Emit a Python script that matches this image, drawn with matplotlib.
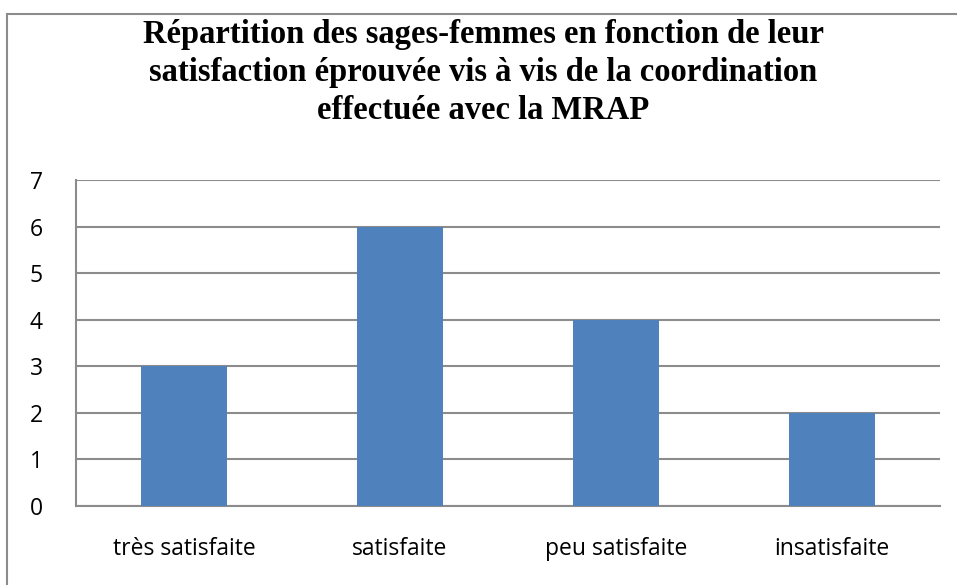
import matplotlib.pyplot as plt
from matplotlib.lines import Line2D

categories = ['très satisfaite', 'satisfaite', 'peu satisfaite', 'insatisfaite']
values = [3, 6, 4, 2]
title = ('Répartition des sages-femmes en fonction de leur\n'
         'satisfaction éprouvée vis à vis de la coordination\n'
         'effectuée avec la MRAP')

fig = plt.figure(figsize=(9.57, 5.85), dpi=100)
ax = fig.add_axes([76/957, 1 - 506/585, 864/957, 326/585])

x = range(len(categories))
ax.bar(x, values, width=0.4, color='#4F81BD', zorder=3)
ax.set_xlim(-0.5, len(categories) - 0.5)
ax.set_ylim(0, 7)
ax.set_yticks(range(0, 8))
ax.set_xticks(list(x))
ax.set_xticklabels(categories)
ax.yaxis.grid(True, color='#8c8c8c', linewidth=1.5, zorder=0)
for s in ['top', 'right']:
    ax.spines[s].set_visible(False)
for s in ['left', 'bottom']:
    ax.spines[s].set_color('#8c8c8c')
    ax.spines[s].set_linewidth(1.5)
ax.tick_params(length=0, labelsize=16.5, colors='black')
ax.tick_params(axis='x', pad=22)
ax.tick_params(axis='y', pad=24)
for lab in ax.get_xticklabels() + ax.get_yticklabels():
    lab.set_family(['Open Sans', 'DejaVu Sans'])

fig.text(0.505, 1 - 19/585, title, ha='center', va='top',
         family='Liberation Serif', weight='bold', fontsize=23.5,
         linespacing=1.3)

# outer chart frame (cropped on right and bottom)
fig.add_artist(Line2D([7/957, 1], [1 - 14/585, 1 - 14/585], transform=fig.transFigure,
                      color='#8c8c8c', linewidth=1.5))
fig.add_artist(Line2D([7/957, 7/957], [0, 1 - 14/585], transform=fig.transFigure,
                      color='#8c8c8c', linewidth=1.5))

fig.savefig('out.png', dpi=100)
